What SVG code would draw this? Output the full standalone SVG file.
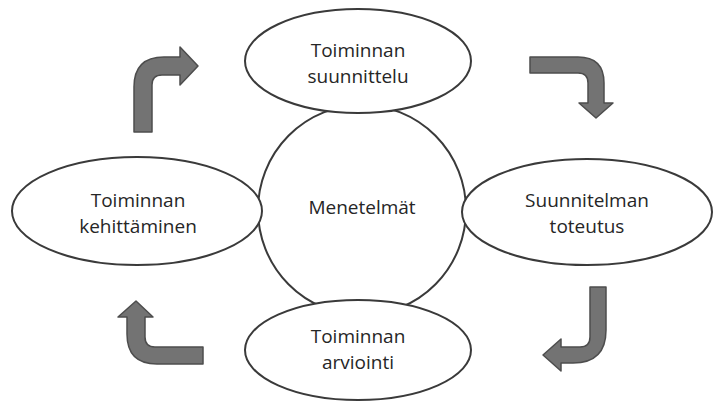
<svg xmlns="http://www.w3.org/2000/svg" width="719" height="404" viewBox="0 0 719 404">
<style>
.n{fill:#fff;stroke:#3a3a3a;stroke-width:2}
.t{font-family:"Open Sans","Liberation Sans",sans-serif;font-size:19px;fill:#262626;text-anchor:middle}
.a{fill:#737373;stroke:#4d4d4d;stroke-width:1.5;stroke-linejoin:round}
</style>
<rect width="719" height="404" fill="#fff"/>
<g id="center"><ellipse class="n" cx="362" cy="210" rx="104" ry="105"/><text class="t" x="362" y="214">Menetelmät</text></g>
<g id="top"><ellipse class="n" cx="358" cy="61" rx="113" ry="52"/><text class="t" x="358" y="57">Toiminnan</text><text class="t" x="358" y="83">suunnittelu</text></g>
<g id="left"><ellipse class="n" cx="137" cy="211" rx="125" ry="54"/><text class="t" x="138" y="207">Toiminnan</text><text class="t" x="138" y="233">kehittäminen</text></g>
<g id="right"><ellipse class="n" cx="587" cy="212" rx="125" ry="53"/><text class="t" x="587" y="207">Suunnitelman</text><text class="t" x="587" y="233">toteutus</text></g>
<g id="bottom"><ellipse class="n" cx="358" cy="350" rx="113" ry="50"/><text class="t" x="358" y="343">Toiminnan</text><text class="t" x="358" y="369">arviointi</text></g>
<g id="connectors">
<path class="a" d="M134,132 L134,87 Q134,57 164,57 L180,57 L180,47 L198,66 L180,85 L180,75 L162,75 Q152,75 152,85 L152,132 Z"/>
<path class="a" d="M530,57 L578,57 Q604,57 604,83 L604,103 L613,103 L596,118 L579,103 L588,103 L588,83 Q588,73 578,73 L530,73 Z"/>
<path class="a" d="M590,287 L606,287 L606,330 Q606,363 573,363 L561,363 L561,371 L543,355 L561,339 L561,347 L580,347 Q590,347 590,337 Z"/>
<path class="a" d="M203,347 L155,347 Q145,347 145,337 L145,317 L153,317 L136,301 L118,317 L127,317 L127,334 Q127,364 157,364 L203,364 Z"/>
</g>
</svg>
